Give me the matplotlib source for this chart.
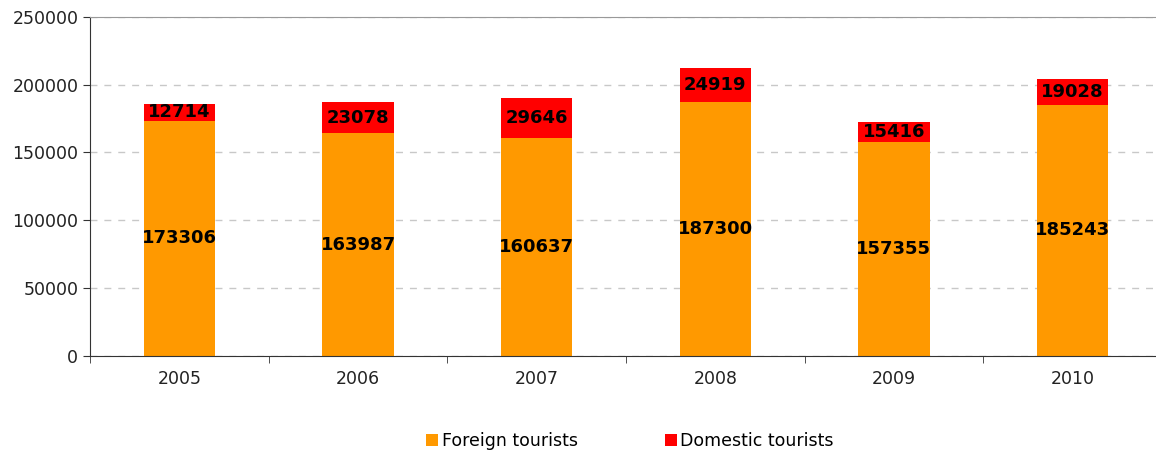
import matplotlib
matplotlib.use("Agg")
import matplotlib.pyplot as plt
import numpy as np

years = ["2005", "2006", "2007", "2008", "2009", "2010"]
foreign = [173306, 163987, 160637, 187300, 157355, 185243]
domestic = [12714, 23078, 29646, 24919, 15416, 19028]

plt.rcParams['font.family'] = ['DejaVu Sans']

fig = plt.figure(figsize=(11.56, 4.54), dpi=100)
ax = fig.add_axes([0.078, 0.216, 0.927, 0.747])

x = np.arange(len(years))
b1 = ax.bar(x, foreign, width=0.4, color='#FF9900', label='Foreign tourists', zorder=2)
b2 = ax.bar(x, domestic, width=0.4, bottom=foreign, color='#FF0000', label='Domestic tourists', zorder=2)

# labels in the middle of each segment
for i in range(len(years)):
    ax.text(x[i], foreign[i] / 2, str(foreign[i]), ha='center', va='center',
            fontsize=13, fontweight='bold', color='black', zorder=3)
    ax.text(x[i], foreign[i] + domestic[i] / 2, str(domestic[i]), ha='center', va='center',
            fontsize=13, fontweight='bold', color='black', zorder=3)

ax.set_xlim(-0.5, len(years) - 0.5)
ax.set_ylim(0, 250000)
ax.set_yticks(range(0, 250001, 50000))
ax.set_xticks(x)
ax.set_xticklabels(years)
ax.set_xticks(np.arange(-0.5, len(years)), minor=True)
ax.tick_params(axis='x', which='major', length=0, pad=10, labelsize=12.5, colors='#222222')
ax.tick_params(axis='x', which='minor', length=5, direction='out', color='#333333')
ax.tick_params(axis='y', length=5, direction='out', labelsize=12.5, colors='#333333', labelcolor='#222222')

ax.yaxis.grid(True, linestyle=(0, (5, 5)), color='#c8c8c8', linewidth=1, zorder=0)
ax.set_axisbelow(True)

ax.spines['right'].set_visible(False)
ax.spines['top'].set_color('#999999')
ax.spines['left'].set_color('#333333')
ax.spines['bottom'].set_color('#333333')

leg = fig.legend(handles=[b1, b2], loc='center', bbox_to_anchor=(0.545, 0.028),
                 ncol=2, frameon=False, fontsize=12.5, handlelength=0.7, handleheight=0.7,
                 handletextpad=0.2, columnspacing=5.0)

fig.savefig("out.png", dpi=100)
